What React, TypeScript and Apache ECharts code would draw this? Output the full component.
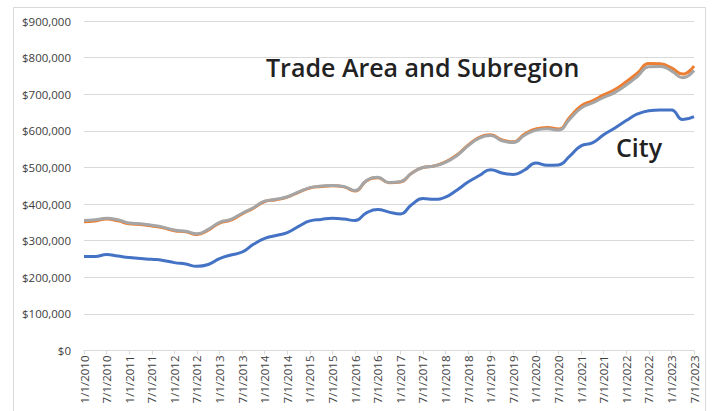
import React, { useEffect, useRef } from "react";
import * as echarts from "echarts";

// Quarterly dates (labels shown every 6 months)
const quarters: string[] = [];
for (let y = 2010; y <= 2023; y++) {
  for (const m of [1, 4, 7, 10]) {
    if (y === 2023 && m > 7) continue;
    quarters.push(`${m}/1/${y}`);
  }
}

// Values in $ thousands
const cityValues = [
  257, 257, 262, 258, 254, 251, 249, 246, 240, 236, 230, 235, 251, 261, 269,
  290, 306, 314, 322, 339, 354, 358, 361, 359, 355, 376, 385, 378, 373, 398,
  415, 413, 419, 438, 460, 478, 494, 485, 481, 493, 512, 506, 507, 531, 559,
  567, 589, 608, 628, 646, 655, 657, 657, 631, 639,
];
const tradeAreaValues = [
  352, 354, 359, 354, 346, 344, 340, 335, 327, 324, 317, 329, 348, 356, 373,
  389, 407, 412, 419, 432, 444, 448, 450, 447, 436, 463, 472, 458, 460, 484,
  500, 504, 515, 534, 561, 582, 589, 575, 570, 591, 605, 609, 605, 637, 668,
  682, 698, 713, 734, 758, 784, 783, 772, 755, 777,
];
const subregionValues = [
  355, 357, 361, 357, 348, 346, 342, 337, 329, 326, 319, 331, 350, 358, 375,
  390, 408, 413, 420, 433, 445, 449, 451, 448, 437, 464, 473, 459, 461, 484,
  500, 504, 514, 532, 559, 580, 587, 573, 568, 588, 602, 606, 602, 632, 662,
  676, 691, 705, 725, 749, 775, 776, 764, 745, 765,
];

const yTicks = [0, 100000, 200000, 300000, 400000, 500000, 600000, 700000, 800000, 900000];

const fmt = (v: number) => "$" + v.toLocaleString("en-US");

export default function App() {
  const ref = useRef<HTMLDivElement>(null);
  useEffect(() => {
    if (!ref.current) return;
    const chart = echarts.init(ref.current, null, { renderer: "svg" });
    const font = "'Open Sans', 'Liberation Sans', sans-serif";
    chart.setOption({
      animation: false,
      backgroundColor: "#ffffff",
      grid: { left: 84, right: 20, top: 21, bottom: 60.5, containLabel: false },
      xAxis: {
        type: "category",
        data: quarters,
        boundaryGap: false,
        axisLine: { lineStyle: { color: "#d9d9d9", width: 1 } },
        axisTick: { show: true, interval: 1, length: 4, lineStyle: { color: "#d9d9d9" } },
        axisLabel: {
          interval: 1,
          rotate: 90,
          fontSize: 11.5,
          color: "#404040",
          fontFamily: font,
          margin: 5,
        },
        splitLine: { show: false },
      },
      yAxis: {
        type: "value",
        min: yTicks[0],
        max: yTicks[yTicks.length - 1],
        interval: 100000,
        axisLine: { show: false },
        axisTick: { show: false },
        axisLabel: {
          formatter: (v: number) => fmt(v),
          fontSize: 11.5,
          color: "#404040",
          fontFamily: font,
          margin: 13,
        },
        splitLine: { lineStyle: { color: "#d9d9d9", width: 1 } },
      },
      series: [
        {
          name: "City",
          type: "line",
          data: cityValues.map((v) => v * 1000),
          smooth: true,
          showSymbol: false,
          lineStyle: { color: "#4472C4", width: 3 },
          itemStyle: { color: "#4472C4" },
        },
        {
          name: "Trade Area",
          type: "line",
          data: tradeAreaValues.map((v) => v * 1000),
          smooth: true,
          showSymbol: false,
          lineStyle: { color: "#ED7D31", width: 3 },
          itemStyle: { color: "#ED7D31" },
        },
        {
          name: "Subregion",
          type: "line",
          data: subregionValues.map((v) => v * 1000),
          smooth: true,
          showSymbol: false,
          lineStyle: { color: "#A5A5A5", width: 3 },
          itemStyle: { color: "#A5A5A5" },
        },
      ],
      graphic: [
        {
          type: "rect",
          silent: true,
          shape: { x: 13.5, y: 7.5, width: 692, height: 420 },
          style: { fill: "none", stroke: "#d9d9d9", lineWidth: 1 },
          z: -1,
        },
        {
          type: "text",
          left: 266,
          top: 54,
          style: {
            text: "Trade Area and Subregion",
            fontSize: 25,
            fontWeight: 600,
            fontFamily: font,
            fill: "#222222",
          },
        },
        {
          type: "text",
          left: 616,
          top: 134,
          style: {
            text: "City",
            fontSize: 25,
            fontWeight: 600,
            fontFamily: font,
            fill: "#222222",
          },
        },
      ],
    });
    return () => chart.dispose();
  }, []);
  return (
    <div
      ref={ref}
      style={{ position: "fixed", left: 0, top: 0, width: 714, height: 411 }}
    />
  );
}
